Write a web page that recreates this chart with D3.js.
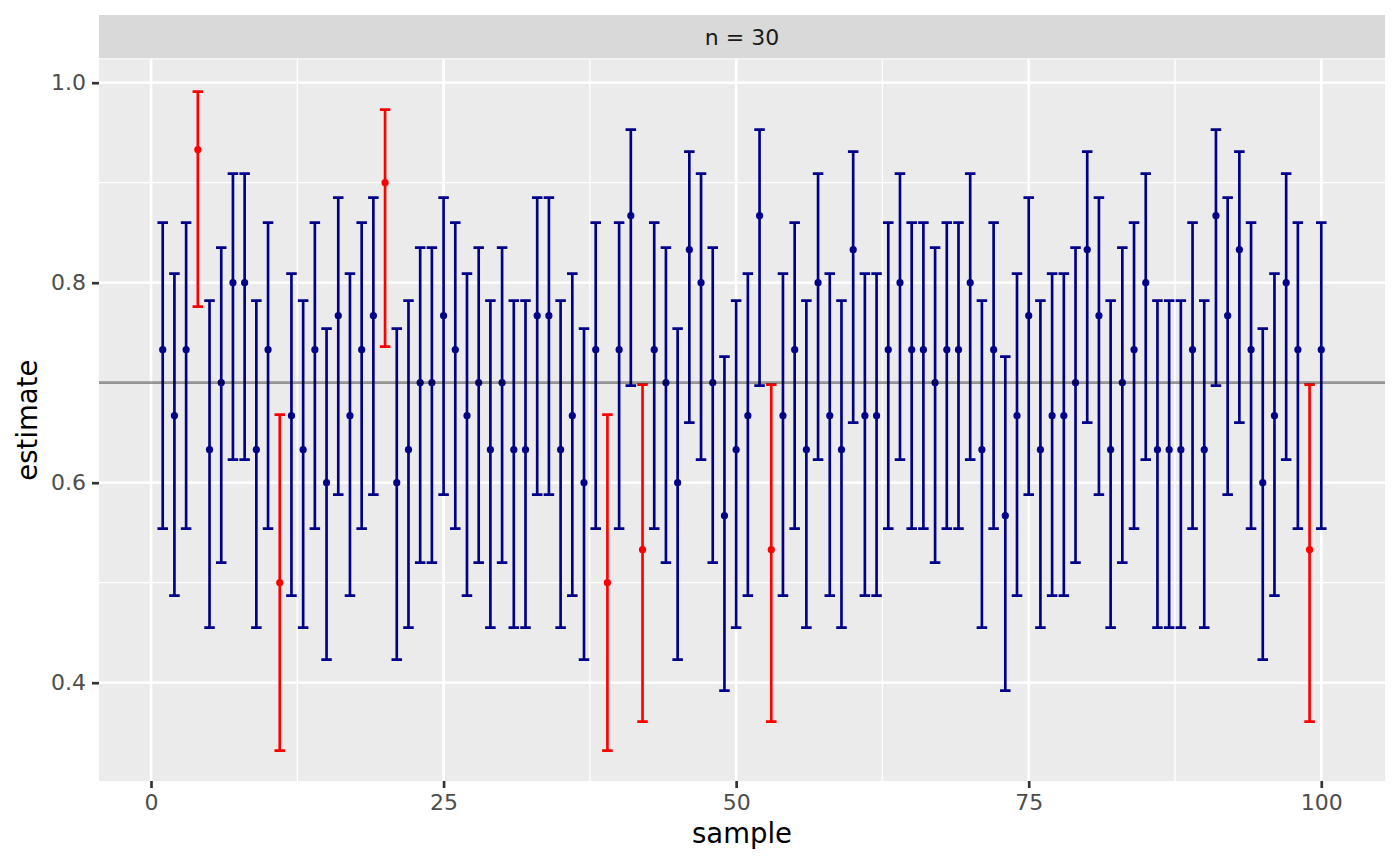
<!DOCTYPE html>
<html>
<head>
<meta charset="utf-8">
<script src="https://cdn.jsdelivr.net/npm/d3@7"></script>
<style>
  body { margin: 0; background: #fff; }
  text { font-family: "DejaVu Sans", sans-serif; }
</style>
</head>
<body>
<svg id="chart" width="1400" height="866"></svg>
<script>
// ---- data ----
const facetLabel = "n = 30";
const trueValue = 0.7;
const samples = d3.range(1, 101);
const estimates = [
  0.733, 0.667, 0.733, 0.933, 0.633, 0.700, 0.800, 0.800, 0.633, 0.733,
  0.500, 0.667, 0.633, 0.733, 0.600, 0.767, 0.667, 0.733, 0.767, 0.900,
  0.600, 0.633, 0.700, 0.700, 0.767, 0.733, 0.667, 0.700, 0.633, 0.700,
  0.633, 0.633, 0.767, 0.767, 0.633, 0.667, 0.600, 0.733, 0.500, 0.733,
  0.867, 0.533, 0.733, 0.700, 0.600, 0.833, 0.800, 0.700, 0.567, 0.633,
  0.667, 0.867, 0.533, 0.667, 0.733, 0.633, 0.800, 0.667, 0.633, 0.833,
  0.667, 0.667, 0.733, 0.800, 0.733, 0.733, 0.700, 0.733, 0.733, 0.800,
  0.633, 0.733, 0.567, 0.667, 0.767, 0.633, 0.667, 0.667, 0.700, 0.833,
  0.767, 0.633, 0.700, 0.733, 0.800, 0.633, 0.633, 0.633, 0.733, 0.633,
  0.867, 0.767, 0.833, 0.733, 0.600, 0.667, 0.800, 0.733, 0.533, 0.733
];
// interval bounds for each estimate level
const levelEstimate = [0.500, 0.533, 0.567, 0.600, 0.633, 0.667, 0.700, 0.733, 0.767, 0.800, 0.833, 0.867, 0.900, 0.933];
const levelLower    = [0.332, 0.361, 0.392, 0.423, 0.455, 0.487, 0.520, 0.554, 0.588, 0.623, 0.660, 0.697, 0.736, 0.776];
const levelUpper    = [0.668, 0.698, 0.726, 0.754, 0.782, 0.809, 0.835, 0.860, 0.885, 0.909, 0.931, 0.953, 0.973, 0.991];
const xTicks = [0, 25, 50, 75, 100];
const yTicks = [0.4, 0.6, 0.8, 1.0];
const xMinor = [12.5, 37.5, 62.5, 87.5];
const yMinor = [0.3, 0.5, 0.7, 0.9];
const xLimits = [-4.445, 105.445];
const yLimits = [0.3017, 1.0234];

const rows = samples.map((s, i) => {
  const li = levelEstimate.findIndex(v => Math.abs(v - estimates[i]) < 0.005);
  const lo = levelLower[li], hi = levelUpper[li];
  return { sample: s, est: estimates[i], lo, hi, covers: lo <= trueValue && hi >= trueValue };
});

// ---- layout ----
const panel = { left: 99, right: 1385, top: 59.3, bottom: 781 };
const strip = { top: 15, bottom: 58.3 };
const svg = d3.select("#chart");
const LW = 2.67;

const barW = 0.9;
const x = d3.scaleLinear().domain(xLimits).range([panel.left, panel.right]);
const y = d3.scaleLinear().domain(yLimits).range([panel.bottom, panel.top]);

// strip
svg.append("rect").attr("x", panel.left).attr("y", strip.top)
  .attr("width", panel.right - panel.left).attr("height", strip.bottom - strip.top)
  .attr("fill", "#d9d9d9");
svg.append("text").attr("x", (panel.left + panel.right) / 2).attr("y", (strip.top + strip.bottom) / 2)
  .attr("dy", "0.36em").attr("text-anchor", "middle").attr("font-size", 22).attr("fill", "#1a1a1a")
  .text(facetLabel);

// panel background
svg.append("rect").attr("x", panel.left).attr("y", panel.top)
  .attr("width", panel.right - panel.left).attr("height", panel.bottom - panel.top)
  .attr("fill", "#ebebeb");

const grid = svg.append("g");
grid.selectAll(".ymin").data(yMinor).join("line")
  .attr("x1", panel.left).attr("x2", panel.right).attr("y1", d => y(d)).attr("y2", d => y(d))
  .attr("stroke", "#fff").attr("stroke-width", LW / 2);
grid.selectAll(".xmin").data(xMinor).join("line")
  .attr("y1", panel.top).attr("y2", panel.bottom).attr("x1", d => x(d)).attr("x2", d => x(d))
  .attr("stroke", "#fff").attr("stroke-width", LW / 2);
grid.selectAll(".ymaj").data(yTicks).join("line")
  .attr("x1", panel.left).attr("x2", panel.right).attr("y1", d => y(d)).attr("y2", d => y(d))
  .attr("stroke", "#fff").attr("stroke-width", LW);
grid.selectAll(".xmaj").data(xTicks).join("line")
  .attr("y1", panel.top).attr("y2", panel.bottom).attr("x1", d => x(d)).attr("x2", d => x(d))
  .attr("stroke", "#fff").attr("stroke-width", LW);

// error bars
const col = d => d.covers ? "#00008B" : "#FF0000";
const eb = svg.append("g").attr("fill", "none").attr("stroke-width", LW);
eb.selectAll("path").data(rows).join("path")
  .attr("stroke", col)
  .attr("d", d => {
    const x0 = x(d.sample - barW / 2), x1 = x(d.sample + barW / 2), xc = x(d.sample);
    return `M${x0},${y(d.hi)}H${x1}M${xc},${y(d.hi)}V${y(d.lo)}M${x0},${y(d.lo)}H${x1}`;
  });

// points
svg.append("g").selectAll("circle").data(rows).join("circle")
  .attr("cx", d => x(d.sample)).attr("cy", d => y(d.est)).attr("r", 3.6)
  .attr("fill", col);

// reference line
svg.append("line").attr("x1", panel.left).attr("x2", panel.right)
  .attr("y1", y(trueValue)).attr("y2", y(trueValue))
  .attr("stroke", "#000").attr("stroke-opacity", 0.4).attr("stroke-width", LW);

// axes
const xAxis = svg.append("g").attr("transform", `translate(0,${panel.bottom})`)
  .call(d3.axisBottom(x).tickValues(xTicks).tickSize(7).tickPadding(6).tickFormat(d3.format("d")));
const yAxis = svg.append("g").attr("transform", `translate(${panel.left},0)`)
  .call(d3.axisLeft(y).tickValues(yTicks).tickSize(7).tickPadding(6).tickFormat(d3.format(".1f")));
[xAxis, yAxis].forEach(a => {
  a.select(".domain").remove();
  a.selectAll(".tick line").attr("stroke", "#333").attr("stroke-width", LW);
  a.selectAll(".tick text").attr("fill", "#4d4d4d").attr("font-size", 22)
    .attr("font-family", "DejaVu Sans, sans-serif");
});

svg.append("text").attr("x", (panel.left + panel.right) / 2).attr("y", 843)
  .attr("text-anchor", "middle").attr("font-size", 27.5).attr("fill", "#000").text("sample");
svg.append("text").attr("transform", `translate(37,${(panel.top + panel.bottom) / 2}) rotate(-90)`)
  .attr("text-anchor", "middle").attr("font-size", 27.5).attr("fill", "#000").text("estimate");
</script>
</body>
</html>
